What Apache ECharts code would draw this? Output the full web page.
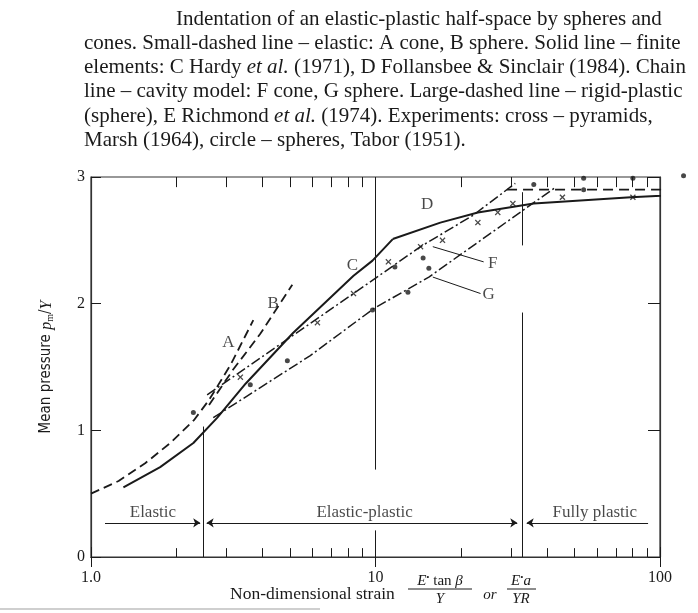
<!DOCTYPE html>
<html>
<head>
<meta charset="utf-8">
<script src="https://cdn.jsdelivr.net/npm/echarts@6/dist/echarts.min.js"></script>
<style>
  html, body { margin: 0; padding: 0; background: #fff; }
  #chart { width: 698px; height: 613px; }
</style>
</head>
<body>
<div id="chart"></div>
<script>
// curves, [strain, p_m/Y]
var curveA = [[1.0, 0.5], [1.25, 0.6], [1.55, 0.74], [1.9, 0.9], [2.3, 1.08], [2.6, 1.24], [3.1, 1.52], [3.72, 1.87]];
var curveB = [[2.6, 1.2], [3.16, 1.48], [3.93, 1.76], [5.1, 2.15]];
var curveC = [[1.3, 0.55], [1.75, 0.71], [2.29, 0.9], [2.78, 1.1], [3.5, 1.37], [5.14, 1.77], [8.37, 2.22], [9.76, 2.34], [11.5, 2.51]];
var curveD = [[11.5, 2.51], [16.9, 2.64], [22.9, 2.72], [36, 2.79], [79, 2.84], [150, 2.87]];
var curveE = [[29, 2.9], [150, 2.9]];
var curveF = [[2.56, 1.28], [8.37, 2.08], [14.4, 2.45], [22.1, 2.7], [31, 2.95]];
var curveG = [[2.69, 1.1], [5.9, 1.59], [9.84, 1.96], [15.4, 2.21], [42.4, 2.91]];

// experiments
var pyramids = [[3.35, 1.42], [6.25, 1.85], [8.37, 2.08], [11.1, 2.33], [14.4, 2.45], [17.2, 2.5], [22.9, 2.64], [26.9, 2.72], [30.4, 2.79], [45.4, 2.84], [80.3, 2.84]];
var spheres = [[2.29, 1.14], [3.63, 1.36], [4.9, 1.55], [9.76, 1.95], [11.7, 2.29], [13, 2.09], [14.7, 2.36], [15.4, 2.28], [36, 2.94], [53.9, 2.99], [53.9, 2.9], [80.3, 2.99], [121, 3.01]];

// curve letters
var letterNames = ["A", "B", "C", "D", "F", "G"];
var letterX = [3.04, 4.37, 8.3, 15.2, 25.8, 25];
var letterY = [1.69, 2.0, 2.3, 2.78, 2.32, 2.07];
var leaderF = [[15.9, 2.45], [24, 2.33]];
var leaderG = [[15.9, 2.21], [23.4, 2.08]];

// regimes along the bottom
var regimeNames = ["Elastic", "Elastic-plastic", "Fully plastic"];
var regimeLabelX = [1.65, 9.15, 59];
var regimeLabelY = 0.355;
var regimeBarY = 0.27;
var regimeFrom = [1.12, 2.55, 34];
var regimeTo = [2.42, 31.5, 90.8];
var boundaries = [2.48, 32.7];

// axes
var xTickLabels = { 1: "1.0", 10: "10", 100: "100" };
var minorTicks = [2, 3, 4, 5, 6, 7, 8, 9, 20, 30, 40, 50, 60, 70, 80, 90];

var ink = "#1a1a1a";
var serif = '"Liberation Serif", "DejaVu Serif", serif';

var chart = echarts.init(document.getElementById("chart"));

// guide lines: minor ticks, boundary verticals, leaders
var guideLines = [];
minorTicks.forEach(function (v) {
  guideLines.push([{ coord: [v, 0] }, { coord: [v, 0.07] }]);
  guideLines.push([{ coord: [v, 3] }, { coord: [v, 2.92] }]);
});
guideLines.push([{ coord: [10, 0] }, { coord: [10, 0.21] }]);
guideLines.push([{ coord: [10, 0.69] }, { coord: [10, 3] }]);
guideLines.push([{ coord: [boundaries[0], 0] }, { coord: [boundaries[0], 1.03] }]);
guideLines.push([{ coord: [boundaries[1], 0] }, { coord: [boundaries[1], 1.93] }]);
guideLines.push([{ coord: [boundaries[1], 2.46] }, { coord: [boundaries[1], 2.88] }]);
guideLines.push([{ coord: leaderF[0] }, { coord: leaderF[1] }]);
guideLines.push([{ coord: leaderG[0] }, { coord: leaderG[1] }]);

// regime arrows, pointing at the boundaries
var arrowLines = [
  [{ coord: [regimeFrom[0], regimeBarY], symbol: "none" }, { coord: [regimeTo[0], regimeBarY], symbol: "arrow" }],
  [{ coord: [regimeFrom[1], regimeBarY], symbol: "arrow" }, { coord: [regimeTo[1], regimeBarY], symbol: "arrow" }],
  [{ coord: [regimeFrom[2], regimeBarY], symbol: "arrow" }, { coord: [regimeTo[2], regimeBarY], symbol: "none" }]
];

function curve(name, data, type, width) {
  return {
    name: name,
    type: "line",
    data: data,
    showSymbol: false,
    clip: false,
    lineStyle: { color: ink, width: width, type: type },
    silent: true
  };
}

var crossPath = "path://M0,1.5 L1.5,0 L5,3.5 L8.5,0 L10,1.5 L6.5,5 L10,8.5 L8.5,10 L5,6.5 L1.5,10 L0,8.5 L3.5,5 Z";

var caption = [
  { x: 176, text: "Indentation of an elastic-plastic half-space by spheres and" },
  { x: 84, text: "cones. Small-dashed line \u2013 elastic: A cone, B sphere. Solid line \u2013 finite" },
  { x: 84, text: "elements: C Hardy {i|et al.} (1971), D Follansbee & Sinclair (1984). Chain" },
  { x: 84, text: "line \u2013 cavity model: F cone, G sphere. Large-dashed line \u2013 rigid-plastic" },
  { x: 84, text: "(sphere), E Richmond {i|et al.} (1974). Experiments: cross \u2013 pyramids," },
  { x: 84, text: "Marsh (1964), circle \u2013 spheres, Tabor (1951)." }
];

var graphics = caption.map(function (c, i) {
  return {
    type: "text",
    x: c.x,
    y: 19 + i * 24.3,
    style: {
      text: c.text,
      fontFamily: serif,
      fontSize: 21,
      fill: ink,
      verticalAlign: "middle",
      rich: { i: { fontFamily: serif, fontSize: 21, fontStyle: "italic" } }
    }
  };
});

var axisNameStyle = { fontFamily: serif, fontSize: 15, fill: ink, verticalAlign: "middle" };
var fracRich = {
  i: { fontFamily: serif, fontSize: 15, fontStyle: "italic" },
  s: { fontFamily: serif, fontSize: 9, verticalAlign: "top", padding: [0, 0, 6, 0] }
};
graphics.push(
  { type: "text", x: 230, y: 594, style: Object.assign({}, axisNameStyle, { text: "Non-dimensional strain", fontSize: 17.5 }) },
  { type: "text", x: 440, y: 581, style: Object.assign({}, axisNameStyle, { text: "{i|E}{s|\u2022} tan {i|\u03b2}", align: "center", rich: fracRich }) },
  { type: "line", shape: { x1: 408, y1: 589, x2: 472, y2: 589 }, style: { stroke: ink, lineWidth: 1 } },
  { type: "text", x: 440, y: 599, style: Object.assign({}, axisNameStyle, { text: "Y", align: "center", fontStyle: "italic" }) },
  { type: "text", x: 490, y: 595, style: Object.assign({}, axisNameStyle, { text: "or", align: "center", fontStyle: "italic" }) },
  { type: "text", x: 521, y: 581, style: Object.assign({}, axisNameStyle, { text: "{i|E}{s|\u2022}{i|a}", align: "center", rich: fracRich }) },
  { type: "line", shape: { x1: 507, y1: 589, x2: 536, y2: 589 }, style: { stroke: ink, lineWidth: 1 } },
  { type: "text", x: 521, y: 599, style: Object.assign({}, axisNameStyle, { text: "YR", align: "center", fontStyle: "italic" }) },
  { type: "line", shape: { x1: 0, y1: 609, x2: 320, y2: 609 }, style: { stroke: "#cfcfcf", lineWidth: 2 } }
);

var option = {
  backgroundColor: "#fff",
  animation: false,
  grid: { left: 91, top: 177, right: 38, bottom: 56, show: true, borderColor: "#333", borderWidth: 1.2 },
  xAxis: [
    {
      type: "log",
      logBase: 10,
      min: 1,
      max: 100,
      axisLine: { show: true, lineStyle: { color: "#333", width: 1.2 } },
      axisTick: { show: true, inside: true, length: 10, lineStyle: { color: ink } },
      splitLine: { show: false },
      axisLabel: {
        margin: 13,
        fontFamily: serif,
        fontSize: 16,
        color: ink,
        formatter: function (v) { return xTickLabels[v] || ""; }
      }
    },
    {
      type: "log",
      logBase: 10,
      min: 1,
      max: 100,
      position: "top",
      axisLine: { show: true, lineStyle: { color: "#333", width: 1.2 } },
      axisTick: { show: true, inside: true, length: 10, lineStyle: { color: ink } },
      axisLabel: { show: false },
      splitLine: { show: false }
    }
  ],
  yAxis: [
    {
      type: "value",
      min: 0,
      max: 3,
      interval: 1,
      axisLine: { show: true, lineStyle: { color: "#333", width: 1.2 } },
      axisTick: { show: true, inside: true, length: 10, lineStyle: { color: ink } },
      splitLine: { show: false },
      axisLabel: { margin: 6, fontFamily: serif, fontSize: 16, color: ink },
      name: "{n|Mean pressure }{i|p}{m|m}{n|/}{i|Y}",
      nameLocation: "middle",
      nameRotate: 90,
      nameGap: 36,
      nameTextStyle: {
        rich: {
          n: { fontFamily: '"DejaVu Sans Condensed", "Liberation Sans Narrow", "DejaVu Sans", sans-serif', fontSize: 15, color: ink },
          i: { fontFamily: serif, fontSize: 16, fontStyle: "italic", color: ink },
          m: { fontFamily: serif, fontSize: 10, color: ink, verticalAlign: "bottom", padding: [7, 0, 0, 0] }
        }
      }
    },
    {
      type: "value",
      min: 0,
      max: 3,
      interval: 1,
      position: "right",
      axisLine: { show: true, lineStyle: { color: "#333", width: 1.2 } },
      axisTick: { show: true, inside: true, length: 12, lineStyle: { color: ink } },
      axisLabel: { show: false },
      splitLine: { show: false }
    }
  ],
  series: [
    curve("A", curveA, [9, 5], 1.8),
    curve("B", curveB, [9, 5], 1.8),
    curve("C", curveC, "solid", 2),
    curve("D", curveD, "solid", 2),
    curve("E", curveE, [10, 6], 1.6),
    curve("F", curveF, [10, 3, 2, 3], 1.5),
    curve("G", curveG, [10, 3, 2, 3], 1.5),
    {
      name: "cross - pyramids",
      type: "scatter",
      data: pyramids,
      symbol: crossPath,
      symbolSize: 6,
      clip: false,
      itemStyle: { color: ink },
      silent: true
    },
    {
      name: "circle - spheres",
      type: "scatter",
      data: spheres,
      symbol: "circle",
      symbolSize: 5,
      clip: false,
      itemStyle: { color: ink },
      silent: true
    },
    {
      name: "letters",
      type: "scatter",
      data: letterNames.map(function (n, i) { return { name: n, value: [letterX[i], letterY[i]] }; }),
      symbolSize: 0,
      silent: true,
      label: { show: true, position: "inside", formatter: "{b}", fontFamily: serif, fontSize: 17, color: ink }
    },
    {
      name: "regimes",
      type: "scatter",
      data: regimeNames.map(function (n, i) { return { name: n, value: [regimeLabelX[i], regimeLabelY] }; }),
      symbolSize: 0,
      silent: true,
      label: { show: true, position: "inside", formatter: "{b}", fontFamily: serif, fontSize: 17, color: ink },
      markLine: {
        silent: true,
        symbol: ["none", "none"],
        symbolSize: 7,
        label: { show: false },
        lineStyle: { color: ink, width: 1, type: "solid" },
        data: guideLines.concat(arrowLines)
      }
    }
  ],
  graphic: graphics
};

chart.setOption(option);
</script>
</body>
</html>
